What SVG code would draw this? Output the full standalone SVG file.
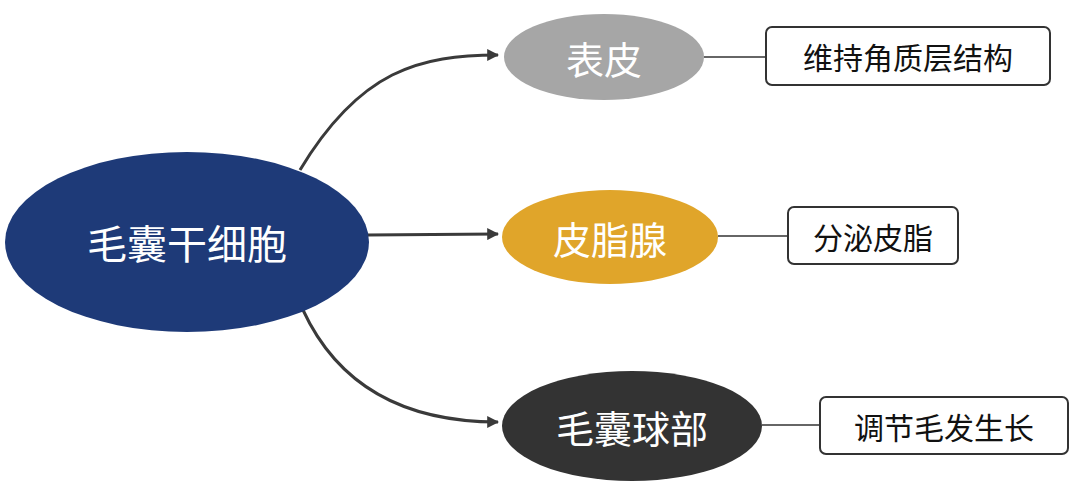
<svg xmlns="http://www.w3.org/2000/svg" width="1080" height="501" viewBox="0 0 1080 501">
<style>
.t{font-family:"Noto Sans CJK SC","Noto Sans",sans-serif;text-anchor:middle;dominant-baseline:central}
.w{fill:#fff}
.b{fill:#111;font-size:30px}
.box{fill:#fff;stroke:#333;stroke-width:2}
.c{fill:none;stroke:#3a3a3a;stroke-width:3}
.l{stroke:#333;stroke-width:1.5}
</style>
<defs><marker id="a" viewBox="0 0 10 10" refX="9" refY="5" markerWidth="4" markerHeight="4" orient="auto"><path d="M0,0L10,5L0,10z" fill="#3a3a3a"/></marker></defs>
<rect width="1080" height="501" fill="#fff"/>
<g id="connectors">
<path class="c" marker-end="url(#a)" d="M300,170 C360,70 420,55 498,55"/>
<path class="c" marker-end="url(#a)" d="M367,235 L498,234"/>
<path class="c" marker-end="url(#a)" d="M303,310 C340,390 410,422 498,422"/>
<line class="l" x1="704" y1="57" x2="766" y2="57"/>
<line class="l" x1="718" y1="236" x2="788" y2="236"/>
<line class="l" x1="762" y1="425" x2="820" y2="425"/>
</g>
<g id="main"><ellipse cx="187" cy="242" rx="182" ry="90" fill="#1e3a78"/><text class="t w" x="187" y="242" font-size="40">毛囊干细胞</text></g>
<g id="n1"><ellipse cx="604" cy="57" rx="100" ry="43" fill="#a6a6a6"/><text class="t w" x="604" y="57" font-size="38">表皮</text></g>
<g id="n2"><ellipse cx="610" cy="237" rx="108" ry="47" fill="#e0a52a"/><text class="t w" x="610" y="237" font-size="38">皮脂腺</text></g>
<g id="n3"><ellipse cx="632" cy="426" rx="130" ry="55" fill="#333"/><text class="t w" x="632" y="426" font-size="38">毛囊球部</text></g>
<g id="b1"><rect class="box" x="766" y="27" width="284" height="58" rx="6"/><text class="t b" x="908" y="56">维持角质层结构</text></g>
<g id="b2"><rect class="box" x="788" y="207" width="170" height="57" rx="6"/><text class="t b" x="873" y="236">分泌皮脂</text></g>
<g id="b3"><rect class="box" x="820" y="397" width="248" height="57" rx="6"/><text class="t b" x="944" y="426">调节毛发生长</text></g>
</svg>
